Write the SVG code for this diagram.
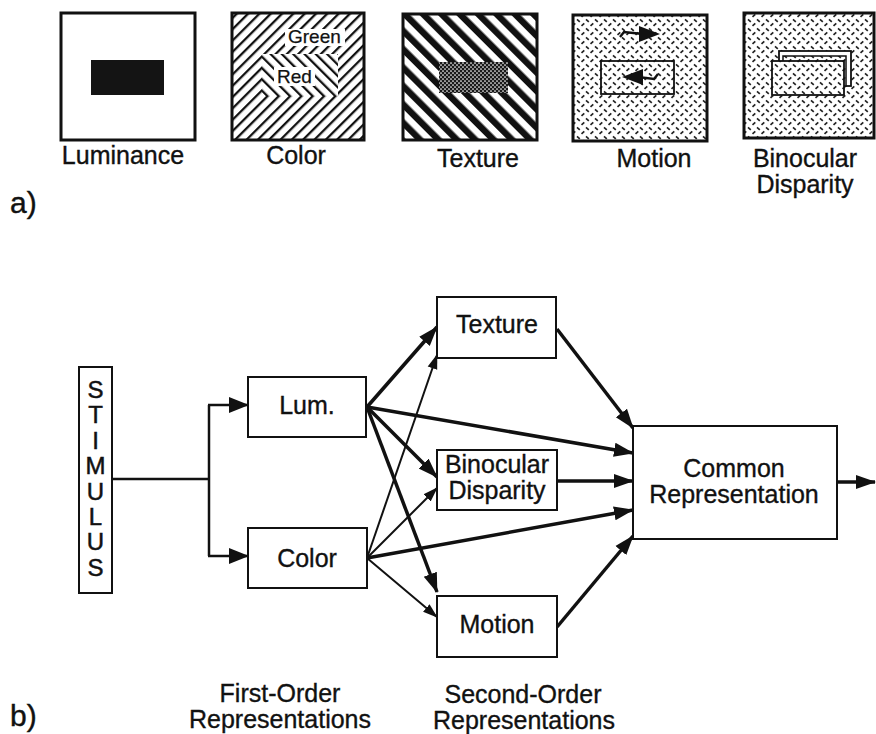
<svg xmlns="http://www.w3.org/2000/svg" width="876" height="734" viewBox="0 0 876 734">
<style>
.t{font-family:"Liberation Sans",Arial,Helvetica,sans-serif;font-size:25px;text-anchor:middle;fill:#111;stroke:#111;stroke-width:0.35}
.s{font-family:"Liberation Sans",Arial,Helvetica,sans-serif;font-size:19px;fill:#111;stroke:#111;stroke-width:0.25}
.lab{font-family:"Liberation Sans",Arial,Helvetica,sans-serif;font-size:30px;fill:#111;stroke:#111;stroke-width:0.4}
.frame{stroke:#111;stroke-width:3;}
.box{fill:#fff;stroke:#111;stroke-width:2}
.thick{stroke:#111;stroke-width:3.5;fill:none;marker-end:url(#ah)}
.thin{stroke:#111;stroke-width:2;fill:none;marker-end:url(#ahs)}
.stim{stroke:#111;stroke-width:2.5;fill:none}
</style>
<defs>
<pattern id="hatchSlash" patternUnits="userSpaceOnUse" width="8" height="8" patternTransform="rotate(45)"><rect x="0" y="0" width="8" height="8" fill="#fff"/><rect x="0" y="0" width="2.3" height="8" fill="#111"/></pattern>
<pattern id="hatchBack" patternUnits="userSpaceOnUse" width="8" height="8" patternTransform="rotate(-45)"><rect x="0" y="0" width="8" height="8" fill="#fff"/><rect x="0" y="0" width="2.3" height="8" fill="#111"/></pattern>
<pattern id="stripes" patternUnits="userSpaceOnUse" width="13" height="13" patternTransform="rotate(-45)"><rect x="0" y="0" width="13" height="13" fill="#fff"/><rect x="0" y="0" width="6.5" height="13" fill="#111"/></pattern>
<pattern id="dots" patternUnits="userSpaceOnUse" width="4" height="4"><rect width="4" height="4" fill="#1a1a1a"/><circle cx="1" cy="1" r="0.85" fill="#fff"/><circle cx="3" cy="3" r="0.85" fill="#fff"/></pattern>
<pattern id="plate" patternUnits="userSpaceOnUse" width="9" height="9"><rect width="9" height="9" fill="#fff"/><path d="M1,1.3 L3.8,3.8 M5.5,7.8 L8.3,5.3" stroke="#222" stroke-width="1.7" fill="none"/></pattern>
<marker id="ah" markerUnits="userSpaceOnUse" markerWidth="20" markerHeight="16" viewBox="0 0 20 16" refX="19" refY="8" orient="auto"><path d="M0,1 L20,8 L0,15 z" fill="#111"/></marker>
<marker id="ahs" markerUnits="userSpaceOnUse" markerWidth="15" markerHeight="12" viewBox="0 0 15 12" refX="14" refY="6" orient="auto"><path d="M0,1 L15,6 L0,11 z" fill="#111"/></marker>
<marker id="ahm" markerUnits="userSpaceOnUse" markerWidth="20" markerHeight="18" viewBox="0 0 20 18" refX="19" refY="9" orient="auto"><path d="M0,1 L20,9 L0,17 z" fill="#111"/></marker>
</defs>
<rect width="876" height="734" fill="#fff"/>

<!-- part a -->
<g id="panel-luminance">
<rect x="61" y="13" width="134" height="127" fill="#fff" class="frame"/>
<rect x="91" y="60" width="73" height="35" fill="#141414"/>
<text class="t" x="123" y="164">Luminance</text>
</g>
<g id="panel-color">
<rect x="232" y="13" width="132" height="127" fill="url(#hatchSlash)"/>
<rect x="262" y="54" width="76" height="42" fill="url(#hatchBack)"/>
<rect x="285" y="29" width="60" height="17" fill="#fff"/>
<rect x="274" y="67" width="41" height="19" fill="#fff"/>
<rect x="232" y="13" width="132" height="127" fill="none" class="frame"/>
<text class="s" x="288" y="43">Green</text>
<text class="s" x="277" y="83">Red</text>
<text class="t" x="296" y="164">Color</text>
</g>
<g id="panel-texture">
<rect x="403" y="14" width="134" height="126" fill="url(#stripes)" class="frame"/>
<rect x="439" y="62" width="69" height="31" fill="url(#dots)"/>
<text class="t" x="478" y="167">Texture</text>
</g>
<g id="panel-motion">
<rect x="573" y="15" width="134" height="126" fill="url(#plate)" class="frame"/>
<rect x="601" y="61" width="73" height="33" fill="url(#plate)" stroke="#111" stroke-width="1.8"/>
<path d="M620,37 L624,32 L643,34" stroke="#111" stroke-width="2.4" fill="none"/>
<path d="M639,26 L660,34 L639,42 z" fill="#111"/>
<path d="M658,74 L654,79 L638,77" stroke="#111" stroke-width="2.4" fill="none"/>
<path d="M643,69 L622,77 L643,85 z" fill="#111"/>
<text class="t" x="654" y="167">Motion</text>
</g>
<g id="panel-binocular">
<rect x="744" y="13" width="130" height="125" fill="url(#plate)" class="frame"/>
<rect x="779" y="51" width="72" height="35" fill="#fff" stroke="#111" stroke-width="1.8"/>
<rect x="783" y="56" width="63" height="30" fill="url(#plate)" stroke="#111" stroke-width="1.5"/>
<rect x="772" y="61" width="72" height="34" fill="url(#plate)" stroke="#111" stroke-width="1.8"/>
<text class="t" x="805" y="167">Binocular<tspan x="805" dy="26">Disparity</tspan></text>
</g>
<text class="lab" x="10" y="213">a)</text>

<!-- part b -->
<g id="connectors">
<path class="stim" d="M112,479 H209"/>
<path class="stim" d="M209,405 V556"/>
<path class="stim" d="M208,405 H248" marker-end="url(#ahm)"/>
<path class="stim" d="M208,556 H248" marker-end="url(#ahm)"/>
<path class="thin" d="M367,558 L437,355"/>
<path class="thin" d="M367,558 L437,488"/>
<path class="thin" d="M367,558 L437,617"/>
<path class="thick" d="M367,407 L437,327"/>
<path class="thick" d="M367,407 L633,453"/>
<path class="thick" d="M367,407 L437,477"/>
<path class="thick" d="M367,407 L437,592"/>
<path class="thick" d="M367,558 L633,510"/>
<path class="thick" d="M557,329 L633,428"/>
<path class="thick" d="M557,481 L633,481"/>
<path class="thick" d="M557,627 L633,536"/>
<path class="thick" d="M837,482 L875,482"/>
</g>
<g id="node-stimulus">
<rect x="79" y="367" width="33" height="226" class="box"/>
<text class="t" style="font-size:24px;stroke-width:0.5" x="95.5" y="398">S<tspan x="95.5" dy="25.4">T</tspan><tspan x="95.5" dy="25.4">I</tspan><tspan x="95.5" dy="25.4">M</tspan><tspan x="95.5" dy="25.4">U</tspan><tspan x="95.5" dy="25.4">L</tspan><tspan x="95.5" dy="25.4">U</tspan><tspan x="95.5" dy="25.4">S</tspan></text>
</g>
<g id="node-lum">
<rect x="248" y="377" width="118" height="60" class="box"/>
<text class="t" x="307" y="414">Lum.</text>
</g>
<g id="node-color">
<rect x="248" y="528" width="119" height="60" class="box"/>
<text class="t" x="307" y="567">Color</text>
</g>
<g id="node-texture">
<rect x="437" y="297" width="119" height="61" class="box"/>
<text class="t" x="497" y="333">Texture</text>
</g>
<g id="node-binocular">
<rect x="437" y="450" width="120" height="60" class="box"/>
<text class="t" x="497" y="473">Binocular<tspan x="497" dy="26">Disparity</tspan></text>
</g>
<g id="node-motion">
<rect x="437" y="596" width="120" height="61" class="box"/>
<text class="t" x="497" y="633">Motion</text>
</g>
<g id="node-common">
<rect x="633" y="426" width="204" height="113" class="box"/>
<text class="t" x="734" y="477">Common<tspan x="734" dy="26">Representation</tspan></text>
</g>
<g id="labels-b">
<text class="t" x="280" y="702">First-Order<tspan x="280" dy="26">Representations</tspan></text>
<text class="t" x="523" y="703">Second-Order<tspan x="524" dy="26">Representations</tspan></text>
</g>
<text class="lab" x="10" y="726">b)</text>
</svg>
